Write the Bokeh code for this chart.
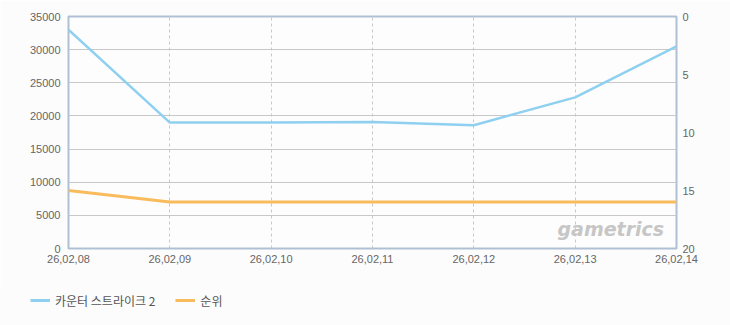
from bokeh.plotting import figure
from bokeh.models import (Range1d, LinearAxis, FixedTicker, Legend, LegendItem,
                          Label, ColumnDataSource)
from bokeh.embed import file_html
from bokeh.resources import INLINE

dates = ["26,02,08", "26,02,09", "26,02,10", "26,02,11", "26,02,12", "26,02,13", "26,02,14"]
players = [33000, 19000, 19000, 19100, 18600, 22800, 30500]
rank = [15, 16, 16, 16, 16, 16, 16]
series_names = ["카운터 스트라이크 2", "순위"]
series_colors = ["#8fd0f0", "#f9bb5c"]
left_ticks = [0, 5000, 10000, 15000, 20000, 25000, 30000, 35000]
right_ticks = [0, 5, 10, 15, 20]

idx = list(range(len(dates)))
src = ColumnDataSource(dict(x=idx, players=players, rank=rank))

BG = "#fcfcfc"
p = figure(width=730, height=285, output_backend="svg", toolbar_location=None,
           x_range=Range1d(0, len(dates) - 1), y_range=Range1d(0, 35000),
           min_border_left=68, min_border_right=54, min_border_top=16, min_border_bottom=37)
p.extra_y_ranges = {"rank": Range1d(20, 0)}

p.border_fill_color = BG
p.background_fill_color = "#fdfdfd"
p.outline_line_color = "#b0c0d4"
p.outline_line_width = 2

LABEL_FONT = "Liberation Sans"
LABEL_COLOR = "#666666"

p.xaxis.ticker = FixedTicker(ticks=idx)
p.xaxis.major_label_overrides = {i: d for i, d in zip(idx, dates)}
p.yaxis.ticker = FixedTicker(ticks=left_ticks)
ra = LinearAxis(y_range_name="rank", ticker=FixedTicker(ticks=right_ticks))
p.add_layout(ra, "right")

for ax in [p.xaxis[0], p.yaxis[0], ra]:
    ax.axis_line_color = None
    ax.major_tick_line_color = None
    ax.minor_tick_line_color = None
    ax.major_label_text_font = LABEL_FONT
    ax.major_label_text_font_size = "11px"
    ax.major_label_text_color = LABEL_COLOR
p.xaxis.major_label_standoff = 0
p.yaxis[0].major_label_standoff = 2
ra.major_label_standoff = 0

p.xgrid.ticker = FixedTicker(ticks=idx)
p.xgrid.grid_line_color = "#c8c8c8"
p.xgrid.grid_line_dash = "3 3"
p.ygrid.ticker = FixedTicker(ticks=left_ticks)
p.ygrid.grid_line_color = "#c8c8c8"

wm = Label(x=489, y=9, x_units="screen", y_units="screen", text="gametrics",
           text_font="DejaVu Sans", text_font_style="bold italic",
           text_font_size="19px", text_color="#c6c6c6")
p.add_layout(wm)

r1 = p.line("x", "players", source=src, line_color=series_colors[0], line_width=2.5)
r2 = p.line("x", "rank", source=src, y_range_name="rank", line_color=series_colors[1], line_width=3)

# legend strip (separate root so its frame is not aligned to the chart)
lg = figure(width=730, height=40, output_backend="svg", toolbar_location=None,
            x_axis_type=None, y_axis_type=None,
            x_range=Range1d(0, 1), y_range=Range1d(0, 1),
            min_border=0)
lg.border_fill_color = BG
lg.background_fill_color = BG
lg.outline_line_color = None
lg.grid.visible = False
nan = float("nan")
d1 = lg.line([nan], [nan], line_color=series_colors[0], line_width=3)
d2 = lg.line([nan], [nan], line_color=series_colors[1], line_width=3)
legend = Legend(items=[LegendItem(label=series_names[0], renderers=[d1]),
                       LegendItem(label=series_names[1], renderers=[d2])],
                location=(30, 15), orientation="horizontal",
                padding=0, margin=0, spacing=20, glyph_width=20, glyph_height=20,
                label_standoff=5, border_line_color=None, background_fill_alpha=0,
                label_text_font="Noto Sans CJK KR", label_text_font_size="12px",
                label_text_color="#555555")
lg.add_layout(legend)

open("out.html", "w").write(file_html([p, lg], INLINE))
